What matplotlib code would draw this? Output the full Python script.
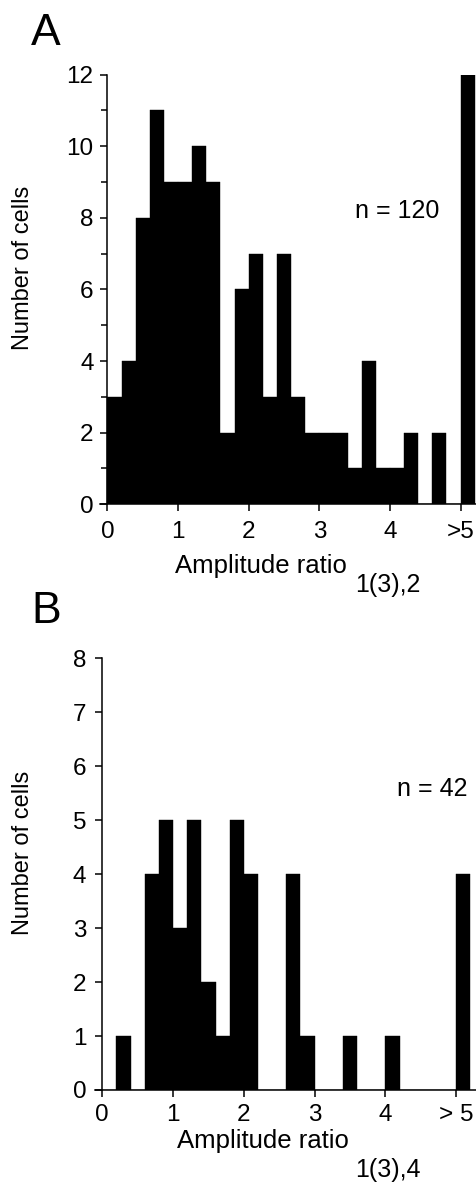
import numpy as np
import matplotlib
matplotlib.use("Agg")
import matplotlib.pyplot as plt
from matplotlib.ticker import MultipleLocator

plt.rcParams['font.family'] = ['Liberation Sans', 'DejaVu Sans']

# bin edges: 0.2 wide bins from 0 to 5.2, last bin is the ">5" class
bin_width = 0.2
counts_a = [3, 4, 8, 11, 9, 9, 10, 9, 2, 6, 7, 3, 7, 3, 2, 2, 2, 1, 4, 1, 1, 2, 0, 2, 0, 12]
counts_b = [0, 1, 0, 4, 5, 3, 5, 2, 1, 5, 4, 0, 0, 4, 1, 0, 0, 1, 0, 0, 1, 0, 0, 0, 0, 4]
xticks = [0, 1, 2, 3, 4, 5]
xticklabels_a = ['0', '1', '2', '3', '4', '>5']
xticklabels_b = ['0', '1', '2', '3', '4', '> 5']
n_a = 120
n_b = 42

W, H = 476, 1184
fig = plt.figure(figsize=(W / 100, H / 100), dpi=100)


def px(x0, y0, x1, y1):
    # pixel box (left, top, right, bottom) -> figure fraction rect
    return [x0 / W, 1 - y1 / H, (x1 - x0) / W, (y1 - y0) / H]


def panel(rect, counts, ymax, xlim, ticklabels, ypad, xpad, minor):
    ax = fig.add_axes(rect)
    left = np.arange(len(counts)) * bin_width
    ax.bar(left, counts, width=bin_width, align='edge', color='black',
           edgecolor='black', linewidth=0.3)
    ax.set_xlim(*xlim)
    ax.set_ylim(0, ymax)
    ax.spines['top'].set_visible(False)
    ax.spines['right'].set_visible(False)
    ax.spines['left'].set_position(('data', 0))
    for s in ('left', 'bottom'):
        ax.spines[s].set_linewidth(1.1)
    ax.set_xticks(xticks)
    ax.set_xticklabels(ticklabels)
    if minor:
        ax.yaxis.set_major_locator(MultipleLocator(2))
        ax.yaxis.set_minor_locator(MultipleLocator(1))
    else:
        ax.yaxis.set_major_locator(MultipleLocator(1))
    ax.tick_params(axis='y', which='major', direction='out', length=5,
                   width=1.1, labelsize=17.5, pad=ypad)
    ax.tick_params(axis='y', which='minor', direction='out', length=4, width=1.1)
    ax.tick_params(axis='x', direction='out', length=5, width=1.1,
                   labelsize=17.5, pad=xpad)
    ax.set_facecolor('none')
    return ax


ax_a = panel(px(100.4, 74.5, 477.5, 504.3), counts_a, 12, (-0.1, 5.24),
             xticklabels_a, 5, 7, True)
ax_a.text(3.5, 8.0, 'n = %d' % n_a, fontsize=18, ha='left', va='baseline')

ax_b = panel(px(95.2, 658.4, 476, 1090), counts_b, 8, (-0.1, 5.28),
             xticklabels_b, 6.5, 5, False)
ax_b.text(4.16, 5.45, 'n = %d' % n_b, fontsize=18, ha='left', va='baseline')

# panel letters
fig.text(31 / W, 1 - 45 / H, 'A', fontsize=32, ha='left', va='baseline')
fig.text(31 / W, 1 - 623 / H, 'B', fontsize=32, ha='left', va='baseline')

# y labels
fig.text(22.7 / W, 1 - 268 / H, 'Number of cells', fontsize=17,
         rotation=90, ha='center', va='center')
fig.text(22.7 / W, 1 - 853 / H, 'Number of cells', fontsize=17,
         rotation=90, ha='center', va='center')

# x labels with lowered subscripts
fig.text(175 / W, 1 - 573 / H, 'Amplitude ratio', fontsize=18.5,
         ha='left', va='baseline')
fig.text(355 / W, 1 - 592 / H, '1(3),2', fontsize=18, ha='left', va='baseline')
fig.text(176.7 / W, 1 - 1148 / H, 'Amplitude ratio', fontsize=18.5,
         ha='left', va='baseline')
fig.text(355 / W, 1 - 1177 / H, '1(3),4', fontsize=18, ha='left', va='baseline')

fig.savefig('out.png', dpi=100)
